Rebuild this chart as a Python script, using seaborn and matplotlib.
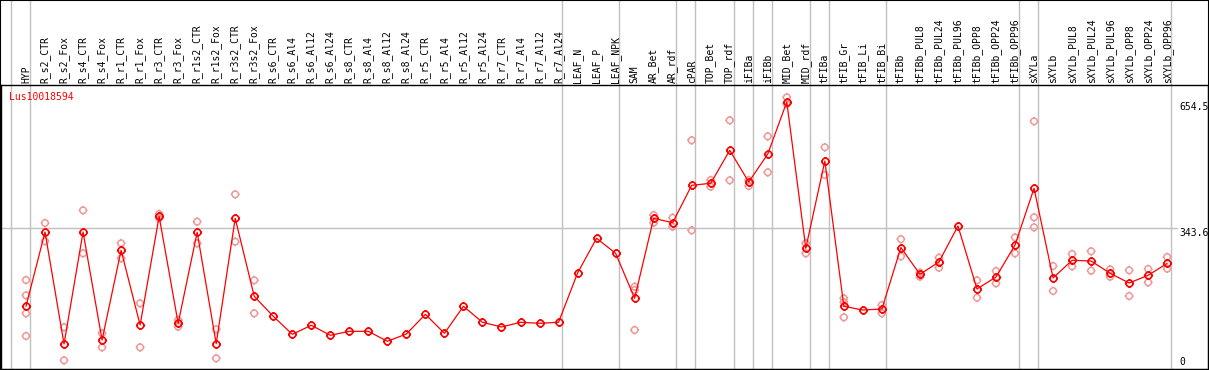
import numpy as np
import pandas as pd
import matplotlib
matplotlib.use("Agg")
import matplotlib.pyplot as plt
import matplotlib.transforms as mtransforms
from matplotlib.path import Path
from matplotlib.patches import Rectangle
import seaborn as sns

sns.set_theme(style="white")
plt.rcParams["font.family"] = ["DejaVu Sans Mono", "DejaVu Sans"]

gene = "Lus10018594"

labels = ["HYP", "R_s2_CTR", "R_s2_Fox", "R_s4_CTR", "R_s4_Fox", "R_r1_CTR", "R_r1_Fox",
          "R_r3_CTR", "R_r3_Fox", "R_r1s2_CTR", "R_r1s2_Fox", "R_r3s2_CTR", "R_r3s2_Fox",
          "R_s6_CTR", "R_s6_Al4", "R_s6_Al12", "R_s6_Al24", "R_s8_CTR", "R_s8_Al4", "R_s8_Al12",
          "R_s8_Al24", "R_r5_CTR", "R_r5_Al4", "R_r5_Al12", "R_r5_Al24", "R_r7_CTR", "R_r7_Al4",
          "R_r7_Al12", "R_r7_Al24", "LEAF_N", "LEAF_P", "LEAF_NPK", "SAM", "AR_Bet", "AR_rdf",
          "cPAR", "TOP_Bet", "TOP_rdf", "iFIBa", "iFIBb", "MID_Bet", "MID_rdf", "tFIBa",
          "tFIB_Gr", "tFIB_Li", "tFIB_Bi", "tFIBb", "tFIBb_PUL8", "tFIBb_PUL24", "tFIBb_PUL96",
          "tFIBb_OPP8", "tFIBb_OPP24", "tFIBb_OPP96", "sXYLa", "sXYLb", "sXYLb_PUL8",
          "sXYLb_PUL24", "sXYLb_PUL96", "sXYLb_OPP8", "sXYLb_OPP24", "sXYLb_OPP96"]

means = [149.9, 333.3, 56.8, 333.3, 66.7, 288.1, 103.7, 372.1, 107.9, 332.6, 57.5, 367.2, 174.6,
         125.2, 80.7, 103.0, 78.3, 88.1, 88.1, 63.5, 81.5, 130.1, 83.2, 149.9, 110.4, 98.8, 110.4,
         107.9, 110.4, 232.1, 317.8, 280.7, 169.6, 367.2, 356.3, 448.6, 453.6, 535.0, 456.8,
         525.9, 654.5, 293.1, 508.6, 149.9, 140.7, 143.2, 295.0, 228.9, 259.3, 348.1, 192.6,
         222.2, 301.2, 441.2, 219.8, 263.5, 261.7, 231.4, 207.4, 226.4, 256.0]

replicates = [[214.8, 177.0, 132.6, 76.5], [355.6, 310.6], [98.0, 16.5], [386.9, 280.7],
              [83.2, 48.6], [305.4, 268.4], [157.3, 48.6], [377.8, 367.2], [116.0, 99.5],
              [358.8, 305.4], [93.1, 21.5], [426.4, 309.4], [214.1, 132.6],
              [], [], [], [], [], [], [], [], [], [], [], [], [], [], [], [],
              [], [], [], [198.3, 190.1, 91.4], [375.3, 356.3], [368.6, 346.4],
              [559.8, 337.5], [461.7, 445.2], [609.1, 461.0], [461.7, 446.9], [569.6, 480.7],
              [665.9, 649.4], [305.4, 280.7], [542.5, 474.1], [169.6, 159.8, 122.7], [],
              [153.1, 132.6], [315.6, 273.3], [232.8, 223.0], [269.9, 245.2], [],
              [214.1, 171.1], [237.0, 206.7], [320.2, 280.7], [606.7, 369.6, 344.9],
              [249.4, 187.7], [279.0, 248.6], [285.7, 237.8], [241.2, 223.0], [238.8, 175.3],
              [242.0, 209.1], [271.6, 242.7]]

group_ends = [-1, 0, 28, 31, 34, 35, 37, 38, 39, 41, 42, 45, 52, 53, 60]
ref_value = 343.6
max_value = 654.5

pos = np.arange(len(labels))
df_mean = pd.DataFrame({"pos": pos, "value": means})
rep_pos, rep_val = [], []
for i, r in enumerate(replicates):
    for v in r:
        rep_pos.append(i)
        rep_val.append(v)
df_rep = pd.DataFrame({"pos": rep_pos, "value": rep_val})

W, H = 1209, 370
fig = plt.figure(figsize=(W / 100, H / 100), dpi=100)
ax_h = 284
ax = fig.add_axes([1 / W, 1 / H, 1207 / W, ax_h / H])

# marker: circle with four small outward ticks
circ = Path.unit_circle()
t = 1.35
ticks = Path([(0, 1), (0, t), (0, -1), (0, -t), (1, 0), (t, 0), (-1, 0), (-t, 0)],
             [Path.MOVETO, Path.LINETO] * 4)
mk = Path.make_compound_path(circ, ticks)

grid_col = "#c0c0c0"
for g in group_ends:
    ax.axvline(g + 0.2, ymin=0, ymax=1 + 86 / ax_h, color=grid_col, lw=1.0,
               clip_on=False, zorder=0)
ax.axhline(ref_value, xmin=0, xmax=0.974, color=grid_col, lw=1.0, zorder=0)

sns.scatterplot(data=df_rep, x="pos", y="value", marker=mk, s=40, ax=ax,
                color="#f09898", linewidth=1.1, legend=False, zorder=2)
coll = ax.collections[-1]
coll.set_facecolor("none")
coll.set_edgecolor("#f09898")

sns.lineplot(data=df_mean, x="pos", y="value", ax=ax, color="red", lw=0.9,
             marker=mk, markersize=6.5, markerfacecolor="none", markeredgecolor="red",
             markeredgewidth=1.2, errorbar=None, legend=False, zorder=3)

ax.set_xlim(-1.314, 62.146)
ax.set_ylim(-4.94, 696.3)
ax.set_xticks([])
ax.set_yticks([])
ax.set_xlabel("")
ax.set_ylabel("")
for s in ax.spines.values():
    s.set_color("black")
    s.set_linewidth(1.0)

trans = mtransforms.blended_transform_factory(ax.transData, ax.transAxes)
for i, lab in enumerate(labels):
    ax.text(i, 1 + 2 / ax_h, lab, transform=trans, rotation=90, ha="center", va="bottom",
            fontsize=7, color="black", clip_on=False)

ytrans = mtransforms.blended_transform_factory(ax.transAxes, ax.transData)
ax.text(0.976, max_value, f"{max_value}", transform=ytrans, ha="left", va="top",
        fontsize=7, color="black")
ax.text(0.976, ref_value, f"{ref_value}", transform=ytrans, ha="left", va="top",
        fontsize=7, color="black")
ax.text(0.976, 0, "0", transform=ytrans, ha="left", va="bottom", fontsize=7, color="black")

ax.text(8 / 1207, 1 - 12 / ax_h, gene, transform=ax.transAxes, ha="left", va="center",
        fontsize=7, color="red")

fig.add_artist(Rectangle((0, 0), 1, 1, transform=fig.transFigure, fill=False,
                         edgecolor="black", linewidth=1.5))

fig.savefig("out.png", dpi=100)
